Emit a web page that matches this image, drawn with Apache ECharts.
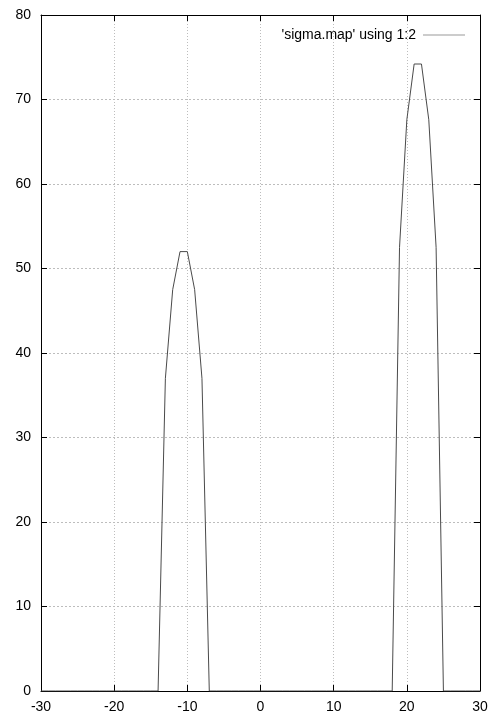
<!DOCTYPE html>
<html>
<head>
<meta charset="utf-8">
<script src="https://cdn.jsdelivr.net/npm/echarts@6/dist/echarts.min.js"></script>
<style>
  html, body { margin: 0; padding: 0; background: #fff; }
  #chart { width: 504px; height: 720px; }
</style>
</head>
<body>
<div id="chart"></div>
<script>
// ——— 数据 ———
const seriesName = "'sigma.map' using 1:2";
const xValues = [
  -30, -29, -28, -27, -26, -25, -24, -23, -22, -21,
  -20, -19, -18, -17, -16, -15, -14, -13, -12, -11,
  -10,  -9,  -8,  -7,  -6,  -5,  -4,  -3,  -2,  -1,
    0,   1,   2,   3,   4,   5,   6,   7,   8,   9,
   10,  11,  12,  13,  14,  15,  16,  17,  18,  19,
   20,  21,  22,  23,  24,  25,  26,  27,  28,  29,
   30
];
const sigmaValues = [
  0, 0, 0, 0, 0, 0, 0, 0, 0, 0,
  0, 0, 0, 0, 0, 0, 0, 37, 47.5, 52,
  52, 47.5, 37, 0, 0, 0, 0, 0, 0, 0,
  0, 0, 0, 0, 0, 0, 0, 0, 0, 0,
  0, 0, 0, 0, 0, 0, 0, 0, 0, 52.5,
  67.6, 74.2, 74.2, 67.6, 52.5, 0, 0, 0, 0, 0,
  0
];
const xTicks = { min: -30, max: 30, step: 10 };
const yTicks = { min: 0, max: 80, step: 10 };

const font = 'Liberation Sans';
const fontSize = 14;

// 公用坐标轴样式（gnuplot 风格：边框 + 内向刻度 + 点状网格）
const frameAxis = {
  axisLine:  { show: true, onZero: false, lineStyle: { color: '#000', width: 1 } },
  axisTick:  { show: true, inside: true, length: 6, lineStyle: { color: '#000' } },
  splitLine: { show: false }
};

const chart = echarts.init(document.getElementById('chart'), null, { renderer: 'canvas' });
chart.setOption({
  animation: false,
  backgroundColor: '#fff',
  textStyle: { fontFamily: font, color: '#000' },
  grid: { left: 41, right: 24, top: 15, bottom: 29, containLabel: false },
  legend: {
    data: [seriesName],
    right: 34, top: 23,
    align: 'right',
    icon: 'rect',
    itemWidth: 42, itemHeight: 1,
    itemGap: 10,
    itemStyle: { color: '#9a9a9a' },
    textStyle: { fontFamily: font, fontSize: fontSize, color: '#000', padding: [0, 2, 0, 0] },
    selectedMode: false
  },
  xAxis: [{
    type: 'value', min: xTicks.min, max: xTicks.max, interval: xTicks.step,
    position: 'bottom',
    ...frameAxis,
    axisLabel: { margin: 9, fontFamily: font, fontSize: fontSize, color: '#000' },
    splitLine: { show: true, lineStyle: { color: '#bdbdbd', type: [1, 2], width: 1 } }
  }, {
    type: 'value', min: xTicks.min, max: xTicks.max, interval: xTicks.step,
    position: 'top',
    ...frameAxis,
    axisLabel: { show: false }
  }],
  yAxis: [{
    type: 'value', min: yTicks.min, max: yTicks.max, interval: yTicks.step,
    position: 'left',
    ...frameAxis,
    axisLabel: { margin: 10, fontFamily: font, fontSize: fontSize, color: '#000' },
    splitLine: { show: true, lineStyle: { color: '#bdbdbd', type: [2, 2], width: 1 } }
  }, {
    type: 'value', min: yTicks.min, max: yTicks.max, interval: yTicks.step,
    position: 'right',
    ...frameAxis,
    axisLabel: { show: false }
  }],
  series: [{
    name: seriesName,
    type: 'line',
    data: xValues.map((x, i) => [x, sigmaValues[i]]),
    showSymbol: false,
    smooth: false,
    lineStyle: { color: '#4a4a4a', width: 1 },
    itemStyle: { color: '#9a9a9a' },
    z: 3
  }]
});
</script>
</body>
</html>
